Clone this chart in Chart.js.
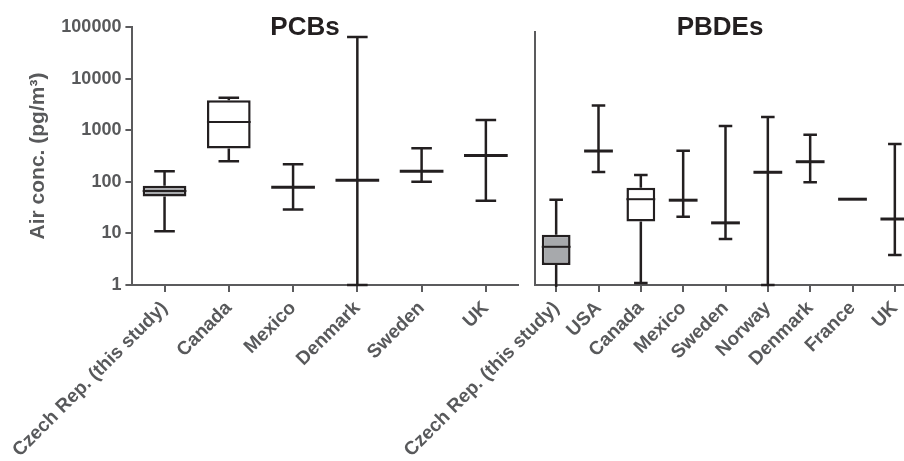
<!DOCTYPE html>
<html>
<head>
<meta charset="utf-8">
<script src="https://cdn.jsdelivr.net/npm/chart.js@4.4.0/dist/chart.umd.min.js"></script>
<style>
    html, body { margin: 0; padding: 0; background: #fff; overflow: hidden; }
    #wrap { position: relative; width: 904px; height: 461px; overflow: hidden; }
    .panel { position: absolute; top: 0; }
    #pcbPanel { left: 0; }
    #pbdePanel { left: 380px; }
</style>
</head>
<body>
<div id="wrap">
    <div class="panel" id="pcbPanel"><canvas id="pcbChart" width="525" height="461"></canvas></div>
    <div class="panel" id="pbdePanel"><canvas id="pbdeChart" width="550" height="461"></canvas></div>
</div>
<script>
// tick values of the log axis
var yTicks = [1, 10, 100, 1000, 10000, 100000];

// PCBs (pg/m3)
var pcbLabels = ['Czech Rep. (this study)', 'Canada', 'Mexico', 'Denmark', 'Sweden', 'UK'];
var pcbMin = [11, 250, 29, 1, 100, 43];
var pcbQ1 = [52, 440, null, null, null, null];
var pcbMedian = [66, 1440, 78, 107, 160, 325];
var pcbQ3 = [84, 3800, null, null, null, null];
var pcbMax = [160, 4250, 220, 64000, 445, 1580];

// PBDEs (pg/m3)
var pbdeLabels = ['Czech Rep. (this study)', 'USA', 'Canada', 'Mexico', 'Sweden', 'Norway', 'Denmark', 'France', 'UK'];
var pbdeMin = [0.5, 155, 1.09, 21, 7.8, 1, 98, 46, 3.8];
var pbdeQ1 = [2.45, null, 17, null, null, null, null, null, null];
var pbdeMedian = [5.5, 395, 46, 44, 16, 153, 245, 46, 19];
var pbdeQ3 = [9.4, null, 77, null, null, null, null, null, null];
var pbdeMax = [45, 3000, 135, 400, 1200, 1800, 820, 46, 540];

var fontFamily = "'Liberation Sans', Arial, Helvetica, sans-serif";
var axisColor = '#5b5b5d';
var labelColor = '#58595b';
var lineColor = '#231f20';
var studyGrey = '#a7a9ac';
var boxFrac = 0.68;
var capFrac = 0.32;

Chart.defaults.font.family = fontFamily;

// whiskers, caps and medians drawn on top of the floating bars
var boxPlotPlugin = {
    id: 'boxPlot',
    afterDatasetsDraw: function (chart) {
        var ctx = chart.ctx, area = chart.chartArea;
        var x = chart.scales.x, y = chart.scales.y;
        var ds = chart.data.datasets[0];
        var step = x.getPixelForValue(1) - x.getPixelForValue(0);
        ctx.save();
        ctx.beginPath();
        ctx.rect(area.left, area.top - 10, area.right - area.left, area.bottom - area.top + 12);
        ctx.clip();
        ctx.strokeStyle = lineColor;
        ds.whiskerLow.forEach(function (lo, i) {
            var hi = ds.whiskerHigh[i];
            var cx = x.getPixelForValue(i);
            var box = ds.data[i];
            var yLo = y.getPixelForValue(lo), yHi = y.getPixelForValue(hi);
            var yMed = y.getPixelForValue(ds.median[i]);
            ctx.lineWidth = 2.5;
            ctx.beginPath();
            if (box) {
                ctx.moveTo(cx, yLo); ctx.lineTo(cx, y.getPixelForValue(box[0]));
                ctx.moveTo(cx, y.getPixelForValue(box[1])); ctx.lineTo(cx, yHi);
            } else if (lo !== hi) {
                ctx.moveTo(cx, yLo); ctx.lineTo(cx, yHi);
            }
            if (lo !== hi) {
                ctx.moveTo(cx - step * capFrac / 2, yLo); ctx.lineTo(cx + step * capFrac / 2, yLo);
                ctx.moveTo(cx - step * capFrac / 2, yHi); ctx.lineTo(cx + step * capFrac / 2, yHi);
            }
            ctx.stroke();
            ctx.lineWidth = box ? 2 : 3;
            ctx.beginPath();
            ctx.moveTo(cx - step * boxFrac / 2, yMed);
            ctx.lineTo(cx + step * boxFrac / 2, yMed);
            ctx.stroke();
        });
        ctx.restore();
    }
};

var panelTitlePlugin = {
    id: 'panelTitle',
    afterDraw: function (chart, args, opts) {
        var ctx = chart.ctx;
        ctx.save();
        ctx.font = 'bold 26px ' + fontFamily;
        ctx.fillStyle = lineColor;
        ctx.textAlign = 'center';
        ctx.textBaseline = 'middle';
        ctx.fillText(opts.text, opts.x, opts.y);
        ctx.restore();
    }
};

function makePanel(canvasId, labels, lo, q1, med, q3, hi, yMax, title, titleX, showY, pad) {
    var boxes = q1.map(function (q, i) { return q === null ? null : [q, q3[i]]; });
    var yAxis = {
        type: 'logarithmic',
        min: 1,
        max: yMax,
        afterBuildTicks: function (scale) {
            scale.ticks = yTicks.map(function (v) { return { value: v }; });
        },
        afterFit: function (scale) { scale.width = showY ? 132 : 0; },
        grid: { display: showY, drawOnChartArea: false, drawTicks: true, tickLength: 7, color: axisColor, lineWidth: 2 },
        border: { display: true, color: axisColor, width: 2 },
        ticks: {
            display: showY,
            color: labelColor,
            padding: 4,
            font: { size: 18, weight: 'bold' },
            callback: function (v) { return String(v); }
        },
        title: {
            display: showY,
            text: 'Air conc. (pg/m\u00b3)',
            color: labelColor,
            font: { size: 21, weight: 'bold' },
            padding: { top: 25, bottom: 0 }
        }
    };
    return new Chart(document.getElementById(canvasId), {
        type: 'bar',
        data: {
            labels: labels,
            datasets: [{
                data: boxes,
                whiskerLow: lo,
                whiskerHigh: hi,
                median: med,
                backgroundColor: function (c) { return c.dataIndex === 0 ? studyGrey : '#ffffff'; },
                borderColor: lineColor,
                borderWidth: 2.5,
                borderSkipped: false,
                barPercentage: boxFrac,
                categoryPercentage: 1
            }]
        },
        options: {
            responsive: false,
            animation: false,
            layout: { padding: pad },
            plugins: {
                legend: { display: false },
                tooltip: { enabled: false },
                panelTitle: { text: title, x: titleX, y: 28 }
            },
            scales: {
                x: {
                    afterFit: function (scale) { scale.height = 176; },
                    grid: { display: true, drawOnChartArea: false, drawTicks: true, tickLength: 7, offset: false, color: axisColor, lineWidth: 2 },
                    border: { display: true, color: axisColor, width: 2 },
                    ticks: {
                        color: labelColor,
                        font: { size: 19, weight: 'bold' },
                        minRotation: 45,
                        maxRotation: 45,
                        autoSkip: false,
                        padding: 5
                    }
                },
                y: yAxis
            }
        },
        plugins: [boxPlotPlugin, panelTitlePlugin]
    });
}

makePanel('pcbChart', pcbLabels, pcbMin, pcbQ1, pcbMedian, pcbQ3, pcbMax, 100000,
    'PCBs', 305, true, { top: 27, right: 7, bottom: 0, left: 0 });
makePanel('pbdeChart', pbdeLabels, pbdeMin, pbdeQ1, pbdeMedian, pbdeQ3, pbdeMax, 80000,
    'PBDEs', 340, false, { top: 32, right: 14, bottom: 0, left: 155 });
</script>
</body>
</html>
